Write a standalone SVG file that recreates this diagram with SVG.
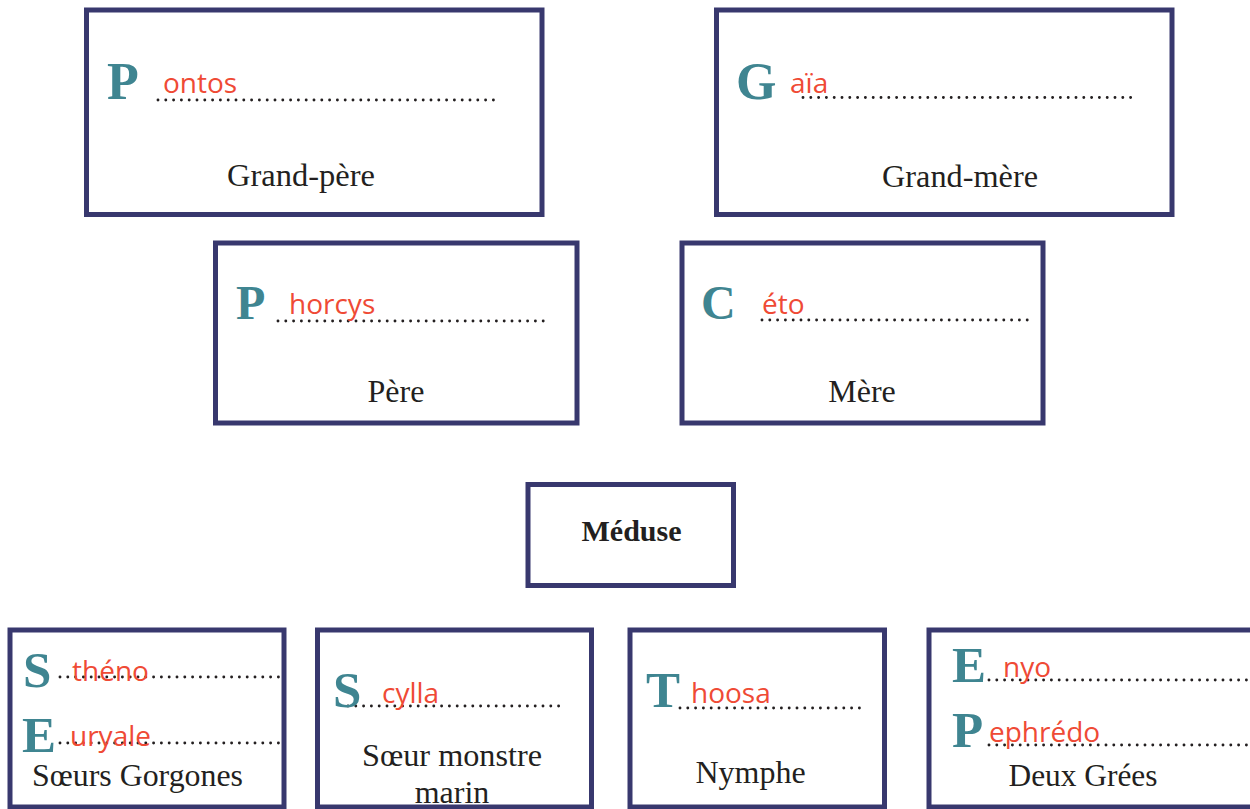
<svg xmlns="http://www.w3.org/2000/svg" width="1250" height="809" viewBox="0 0 1250 809">
<style>
.box{fill:#ffffff;stroke:#38386e;stroke-width:5}
.ini{font-family:"Liberation Serif",serif;font-weight:bold;fill:#3f8591}
.ans{font-family:"Open Sans","Liberation Sans",sans-serif;font-size:28px;fill:#ef4a35}
.lbl{font-family:"Liberation Serif",serif;font-size:32px;fill:#231f20;text-anchor:middle}
.dots{stroke:#231f20;stroke-width:2.9;stroke-linecap:round;stroke-dasharray:0 7.8;fill:none}
</style>
<rect width="1250" height="809" fill="#ffffff"/>
<g id="connectors"/>
<g id="node-grand-pere">
<rect class="box" x="86.5" y="10" width="455.5" height="204.5"/>
<path class="dots" d="M158 100 H494"/>
<text class="ini" x="107" y="99" font-size="52">P</text>
<text class="ans" x="163" y="93">ontos</text>
<text class="lbl" x="301" y="186" textLength="148" lengthAdjust="spacingAndGlyphs">Grand-père</text>
</g>
<g id="node-grand-mere">
<rect class="box" x="716.5" y="10" width="455.5" height="204.5"/>
<path class="dots" d="M803 97.5 H1132"/>
<text class="ini" x="736" y="99" font-size="52">G</text>
<text class="ans" x="790" y="93">aïa</text>
<text class="lbl" x="960" y="187" textLength="156" lengthAdjust="spacingAndGlyphs">Grand-mère</text>
</g>
<g id="node-pere">
<rect class="box" x="215.5" y="243" width="361.5" height="180"/>
<path class="dots" d="M278 321 H550"/>
<text class="ini" x="236" y="319" font-size="48">P</text>
<text class="ans" x="289" y="314">horcys</text>
<text class="lbl" x="396" y="402">Père</text>
</g>
<g id="node-mere">
<rect class="box" x="682" y="243" width="361" height="180"/>
<path class="dots" d="M762 320 H1030"/>
<text class="ini" x="701" y="319" font-size="48">C</text>
<text class="ans" x="762" y="314">éto</text>
<text class="lbl" x="862" y="402">Mère</text>
</g>
<g id="node-meduse">
<rect class="box" x="528" y="484.5" width="205.5" height="101"/>
<text x="631.5" y="541" font-family="Liberation Serif,serif" font-weight="bold" font-size="30" fill="#231f20" text-anchor="middle">Méduse</text>
</g>
<g id="node-gorgones">
<rect class="box" x="10" y="630" width="274" height="177"/>
<path class="dots" d="M60 677 H279"/>
<path class="dots" d="M60 743 H279"/>
<text class="ini" x="23" y="687" font-size="51">S</text>
<text class="ans" x="72" y="681">théno</text>
<text class="ini" x="22" y="752" font-size="51">E</text>
<text class="ans" x="70" y="746">uryale</text>
<text class="lbl" x="137.5" y="786" textLength="211" lengthAdjust="spacingAndGlyphs">Sœurs Gorgones</text>
</g>
<g id="node-scylla">
<rect class="box" x="317.5" y="630" width="274" height="177"/>
<path class="dots" d="M348 706 H565"/>
<text class="ini" x="333" y="707" font-size="51">S</text>
<text class="ans" x="382" y="703">cylla</text>
<text class="lbl" x="452" y="766" textLength="180" lengthAdjust="spacingAndGlyphs">Sœur monstre</text>
<text class="lbl" x="452" y="803">marin</text>
</g>
<g id="node-thoosa">
<rect class="box" x="630" y="630" width="254.5" height="177"/>
<path class="dots" d="M680 708 H865"/>
<text class="ini" x="646" y="707" font-size="51">T</text>
<text class="ans" x="691" y="703">hoosa</text>
<text class="lbl" x="750.5" y="783">Nymphe</text>
</g>
<g id="node-grees">
<rect class="box" x="929" y="630" width="340" height="177"/>
<path class="dots" d="M989 680 H1250"/>
<path class="dots" d="M989 745 H1250"/>
<text class="ini" x="952" y="682" font-size="51">E</text>
<text class="ans" x="1003" y="677">nyo</text>
<text class="ini" x="952" y="747" font-size="51">P</text>
<text class="ans" x="989" y="742">ephrédo</text>
<text class="lbl" x="1083" y="786" textLength="149" lengthAdjust="spacingAndGlyphs">Deux Grées</text>
</g>
</svg>
